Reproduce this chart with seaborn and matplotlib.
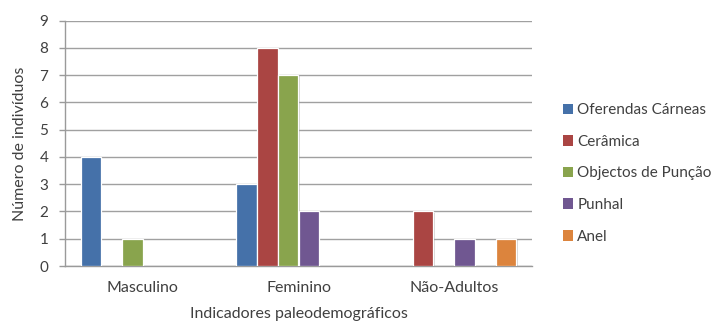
import matplotlib
matplotlib.use("Agg")
import matplotlib.pyplot as plt
import matplotlib.patheffects as pe
from matplotlib.patches import Patch
import seaborn as sns
import pandas as pd

# Categories and per-series counts
grupos = ["Masculino", "Feminino", "Não-Adultos"]
oferendas = [4, 3, 0]
ceramica = [0, 8, 2]
objectos = [1, 7, 0]
punhal = [0, 2, 1]
outros = [0, 0, 0]          # empty series slot kept in the cluster
anel = [0, 0, 1]

series = {
    "Oferendas Cárneas": oferendas,
    "Cerâmica": ceramica,
    "Objectos de Punção": objectos,
    "Punhal": punhal,
    "Outros": outros,
    "Anel": anel,
}
legend_names = ["Oferendas Cárneas", "Cerâmica", "Objectos de Punção", "Punhal", "Anel"]
cores = {
    "Oferendas Cárneas": "#4571A9",
    "Cerâmica": "#AA4543",
    "Objectos de Punção": "#89A44D",
    "Punhal": "#705791",
    "Outros": "#3D96AE",
    "Anel": "#DC843D",
}

rows = []
for nome, vals in series.items():
    for g, v in zip(grupos, vals):
        rows.append({"grupo": g, "serie": nome, "n": v})
df = pd.DataFrame(rows)
df_draw = df[df["n"] > 0]

sns.set_theme(style="white")
plt.rcParams["font.family"] = ["Lato", "DejaVu Sans"]

fig = plt.figure(figsize=(7.16, 3.23), dpi=100)
ax = fig.add_axes([65 / 716, 1 - 266 / 323, (532 - 65) / 716, (266 - 20.7) / 323])

sns.barplot(
    data=df_draw, x="grupo", y="n", hue="serie",
    order=grupos, hue_order=list(series.keys()), palette=cores,
    saturation=1, width=0.8, dodge=True, errorbar=None, legend=False,
    edgecolor="white", linewidth=0.9, ax=ax, zorder=3,
)
for bar in ax.patches:
    bar.set_path_effects([
        pe.SimplePatchShadow(offset=(0.8, -0.8), shadow_rgbFace="#888888", alpha=0.35),
        pe.Normal(),
    ])

ax.set_ylim(0, 9)
ax.set_yticks(range(0, 10))
ax.set_xlim(-0.5, 2.5)
ax.yaxis.grid(True, color="#A0A0A0", linewidth=1.0, zorder=0)
ax.set_axisbelow(True)
for s in ["top", "right"]:
    ax.spines[s].set_visible(False)
for s in ["left", "bottom"]:
    ax.spines[s].set_color("#9A9A9A")
    ax.spines[s].set_linewidth(1.0)

ax.tick_params(axis="y", left=True, length=4, width=1, color="#9A9A9A",
               labelsize=11, labelcolor="#404040", pad=8)
ax.tick_params(axis="x", bottom=False, labelsize=11.5, labelcolor="#404040", pad=4.5)

ax.set_xlabel("Indicadores paleodemográficos", fontsize=11.5, color="#404040", labelpad=9)
ax.set_ylabel("Número de indivíduos", fontsize=11.5, color="#404040", labelpad=9)

handles = [Patch(facecolor=cores[n], edgecolor="none") for n in legend_names]
fig.legend(handles, legend_names, loc="center left",
           bbox_to_anchor=(555 / 716, 1 - 173.4 / 323), frameon=False,
           fontsize=11, handlelength=0.7, handleheight=0.7,
           handletextpad=0.25, labelspacing=1.15, borderpad=0,
           labelcolor="#404040")

fig.savefig("out.png", dpi=100)
